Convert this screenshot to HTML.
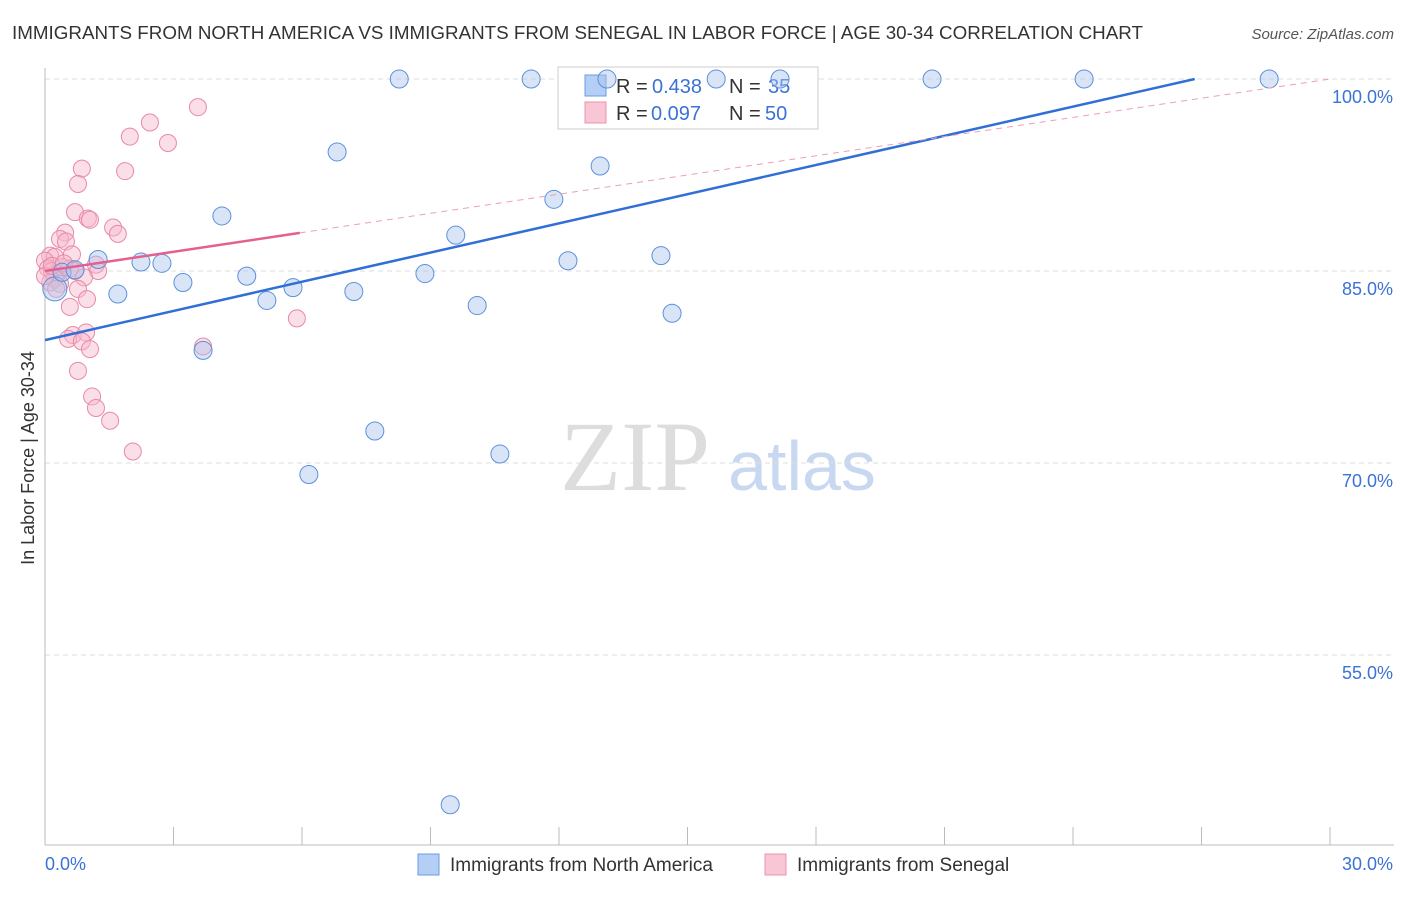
<!DOCTYPE html>
<html><head><meta charset="utf-8"><style>
body{margin:0;background:#fff;font-family:"Liberation Sans",sans-serif}
</style></head><body>
<svg id="chart" width="1406" height="892" font-family="Liberation Sans, sans-serif">
<text x="12" y="39" font-size="18" fill="#333" textLength="1131" lengthAdjust="spacingAndGlyphs">IMMIGRANTS FROM NORTH AMERICA VS IMMIGRANTS FROM SENEGAL IN LABOR FORCE | AGE 30-34 CORRELATION CHART</text>
<text x="1394" y="39" font-size="15" fill="#555" font-style="italic" text-anchor="end">Source: ZipAtlas.com</text>
<text x="34" y="458" font-size="18" fill="#333" text-anchor="middle" transform="rotate(-90 34 458)">In Labor Force | Age 30-34</text>
<text x="635" y="490" font-size="100" fill="#ddd" style="font-family:'Liberation Serif',serif" text-anchor="middle">ZIP</text>
<text x="802" y="490" font-size="70" fill="#c8d8f0" text-anchor="middle">atlas</text>
<g id="grid"></g><g id="axes"></g>
<g>
<rect x="558" y="67" width="260" height="62" fill="#fff" stroke="#ccc"/>
<rect x="585" y="75" width="21" height="21" fill="#b4cef5" stroke="#6a9de0"/>
<rect x="585" y="102" width="21" height="21" fill="#f9c6d5" stroke="#ec93ae"/>
<text x="616" y="93" font-size="20" fill="#333">R =</text>
<text x="652" y="93" font-size="20" fill="#3a72d6">0.438</text>
<text x="729" y="93" font-size="20" fill="#333">N =</text>
<text x="768" y="93" font-size="20" fill="#3a72d6">35</text>
<text x="616" y="120" font-size="20" fill="#333">R =</text>
<text x="651" y="120" font-size="20" fill="#3a72d6">0.097</text>
<text x="729" y="120" font-size="20" fill="#333">N =</text>
<text x="765" y="120" font-size="20" fill="#3a72d6">50</text>
</g>
<g id="pts"></g><g id="lines"></g>
<g>
<rect x="418" y="854" width="21" height="21" fill="#b4cef5" stroke="#6a9de0"/>
<text x="450" y="871" font-size="19" fill="#333">Immigrants from North America</text>
<rect x="765" y="854" width="21" height="21" fill="#f9c6d5" stroke="#ec93ae"/>
<text x="797" y="871" font-size="19" fill="#333">Immigrants from Senegal</text>
</g>
</svg>
<script>
const yTicks=[100,85,70,55];
const xTickLabels=["0.0%","30.0%"];
const blueX=[8.27,11.35,13.12,15.67,17.16,20.71,24.26,28.58,6.82,12.96,11.88,4.13,9.59,1.24,2.24,2.73,14.38,12.21,4.71,8.87,3.22,1.70,5.79,5.18,7.21,10.09,14.64,3.69,7.70,10.62,6.16,9.46,0.23,0.40,0.70];
const blueY=[100,100,100,100,100,100,100,100,94.3,93.2,90.6,89.3,87.8,85.9,85.7,85.6,86.2,85.8,84.6,84.8,84.1,83.2,83.7,82.7,83.4,82.3,81.7,78.8,72.5,70.7,69.1,43.3,83.6,84.9,85.1];
const pinkX=[3.57,2.45,1.98,2.87,0.86,1.87,0.77,0.70,1.00,1.05,1.59,1.70,0.47,0.35,0.49,0.63,0.12,0.23,0,0.07,0.16,0.30,0.40,0.58,0.70,1.19,1.24,0.91,0.23,0.12,0.35,0.77,0.98,0.58,0.65,0.96,0.54,0.86,1.05,3.69,5.88,0.77,1.10,1.19,1.52,2.05,0,0.16,0.44,0.26];
const pinkY=[97.8,96.6,95.5,95.0,93.0,92.8,91.8,89.6,89.1,89.0,88.4,87.9,88.0,87.5,87.3,86.3,86.2,86.1,85.8,85.2,85.0,84.8,85.3,85.2,85.0,85.5,85.0,84.5,84.4,84.1,84.0,83.6,82.8,82.2,80.0,80.2,79.7,79.5,78.9,79.1,81.3,77.2,75.2,74.3,73.3,70.9,84.6,85.4,85.6,83.6];
const blueLine=[79.6,0.76], pinkLine=[85.0,0.5];
const X0=45,X1=1330,Y100=79,PPY=12.8;
const sx=v=>X0+(v/30)*(X1-X0), sy=v=>Y100+(100-v)*PPY;
const NS="http://www.w3.org/2000/svg";
function mk(t,a,p){const e=document.createElementNS(NS,t);for(const k in a)e.setAttribute(k,a[k]);p.appendChild(e);return e;}
const grid=document.getElementById('grid'),axes=document.getElementById('axes'),pts=document.getElementById('pts'),lines=document.getElementById('lines');
yTicks.forEach(t=>{const l=mk('line',{x1:45,x2:1394,y1:sy(t),y2:sy(t),stroke:'#ddd','stroke-dasharray':'5,4'},grid);


const tx=mk('text',{x:1393,y:sy(t)+24,'font-size':18,fill:'#3a72d6','text-anchor':'end'},axes);tx.textContent=t.toFixed(1)+'%';

});
const ax=mk('line',{x1:45,x2:1394,y1:845,y2:845,stroke:'#bbb'},axes);


const ay=mk('line',{x1:45,x2:45,y1:68,y2:845,stroke:'#bbb'},axes);


for(let i=0;i<=10;i++){const x=45+i*128.5;const t=mk('line',{x1:x,x2:x,y1:827,y2:845,stroke:'#bbb'},axes);

}
xTickLabels.forEach((s,i)=>{const t=mk('text',{x:i?1393:45,y:870,'font-size':18,fill:'#3a72d6','text-anchor':i?'end':'start'},axes);t.textContent=s;

});
pinkX.forEach((x,i)=>{const c=mk('circle',{cx:sx(x),cy:sy(pinkY[i]),r:8.5,fill:'#f7b8cb','fill-opacity':0.45,stroke:'#e889a7','stroke-width':1},pts);

});
blueX.forEach((x,i)=>{const c=mk('circle',{cx:sx(x),cy:sy(blueY[i]),r:i==32?12:9,fill:'#aac6ee','fill-opacity':0.45,stroke:'#5b91dc','stroke-width':1},pts);

});
const bEnd=(100-blueLine[0])/blueLine[1];
const bl=mk('line',{x1:sx(0),y1:sy(blueLine[0]),x2:sx(bEnd),y2:sy(100),stroke:'#2f6fd6','stroke-width':2.5},lines);


const pd=mk('line',{x1:sx(5.95),y1:sy(pinkLine[0]+pinkLine[1]*5.95),x2:sx(30),y2:sy(pinkLine[0]+pinkLine[1]*30),stroke:'#eaa0b8','stroke-width':1,'stroke-dasharray':'6,5'},lines);


const pl=mk('line',{x1:sx(0),y1:sy(pinkLine[0]),x2:sx(5.95),y2:sy(pinkLine[0]+pinkLine[1]*5.95),stroke:'#e5608e','stroke-width':2.5},lines);


</script>
</body></html>
